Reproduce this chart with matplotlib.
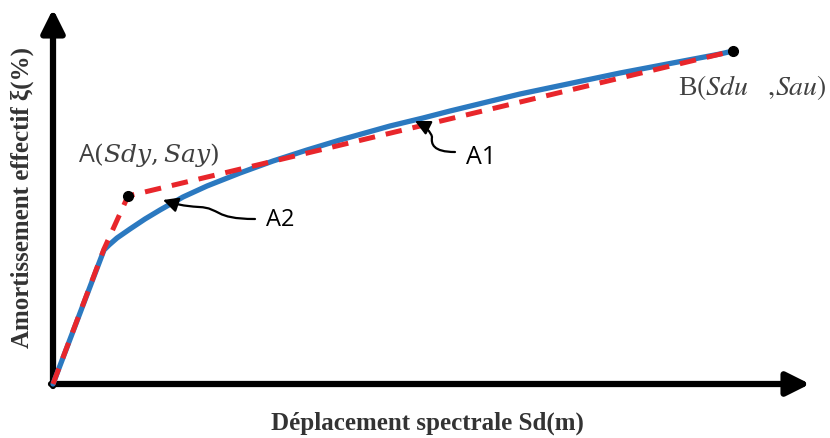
import matplotlib
matplotlib.use("Agg")
import matplotlib.pyplot as plt
from matplotlib.patches import FancyArrowPatch
from matplotlib.path import Path

# Capacity curve (blue) - abstract units
blue_x = [0, 51, 56, 64, 77, 92, 107, 130, 154, 187, 220, 254, 287, 337, 370, 397, 467, 567, 667, 680]
blue_y = [0, 134, 139, 146, 155, 165, 174, 187, 198, 211, 223, 234, 244, 258, 266, 273, 290, 311, 330, 333]
# Bilinear idealisation (red dashed)
red_x = [0, 51, 75, 680]
red_y = [0, 135, 188, 333]
# Points A and B
pts_x = [75, 680]
pts_y = [188, 333]

W, H = 830, 439
fig = plt.figure(figsize=(W / 100, H / 100), dpi=100)
ax = fig.add_axes([0, 0, 1, 1])
ax.set_xlim(-53, W - 53)
ax.set_ylim(-(H - 385), 385)
ax.axis("off")
plt.rcParams["mathtext.fontset"] = "stix"

# axes arrows
ax.annotate("", xy=(0, 375), xytext=(0, -2),
            arrowprops=dict(arrowstyle="-|>,head_length=1.4,head_width=0.7", lw=4.5, color="black",
                            shrinkA=0, shrinkB=0))
ax.annotate("", xy=(757, 0), xytext=(-2, 0),
            arrowprops=dict(arrowstyle="-|>,head_length=1.4,head_width=0.7", lw=4.5, color="black",
                            shrinkA=0, shrinkB=0))

ax.plot(blue_x, blue_y, color="#2b79c0", lw=3.8, solid_capstyle="round",
        solid_joinstyle="round", zorder=3)
ax.plot(red_x, red_y, color="#e8262b", lw=3.6, dashes=(3.3, 2.2), zorder=4)
ax.plot(pts_x, pts_y, "o", color="black", ms=7, zorder=5)

serif = "Liberation Serif"
ax.text(-31, 188, "Amortissement effectif ξ(%)", rotation=90, ha="center", va="center",
        family=serif, fontweight="bold", fontsize=18, color="#333333")
ax.text(374, -38, "Déplacement spectrale Sd(m)", ha="center", va="center",
        family=serif, fontweight="bold", fontsize=18, color="#333333")

ax.text(25, 230, r"A$(\mathit{Sdy},\mathit{Say})$", ha="left", va="center",
        family="Open Sans", fontsize=18, color="#404040", math_fontfamily="dejavuserif")
ax.text(625, 297, r"B$(\mathit{Sdu}\ \ \ ,\!\mathit{Sau})$", ha="left", va="center",
        family="Liberation Serif", fontsize=20, color="#404040")

ax.text(413, 228, "A1", ha="left", va="center", family="Open Sans", fontsize=18, color="black")
ax.text(213, 165, "A2", ha="left", va="center", family="Open Sans", fontsize=17, color="black")

# curved arrows
def curved(verts):
    codes = [Path.MOVETO] + [Path.CURVE4] * (len(verts) - 1)
    p = FancyArrowPatch(path=Path(verts, codes), arrowstyle="-|>,head_length=9,head_width=4.5",
                        lw=1.6, color="black", zorder=6)
    ax.add_patch(p)

curved([(202, 165), (160, 165), (168, 176), (146, 177), (130, 178), (122, 180), (110, 184)])
curved([(402, 232), (380, 232), (378, 240), (379, 247), (378, 252), (372, 258), (362, 263)])

fig.savefig("out.png", dpi=100)
